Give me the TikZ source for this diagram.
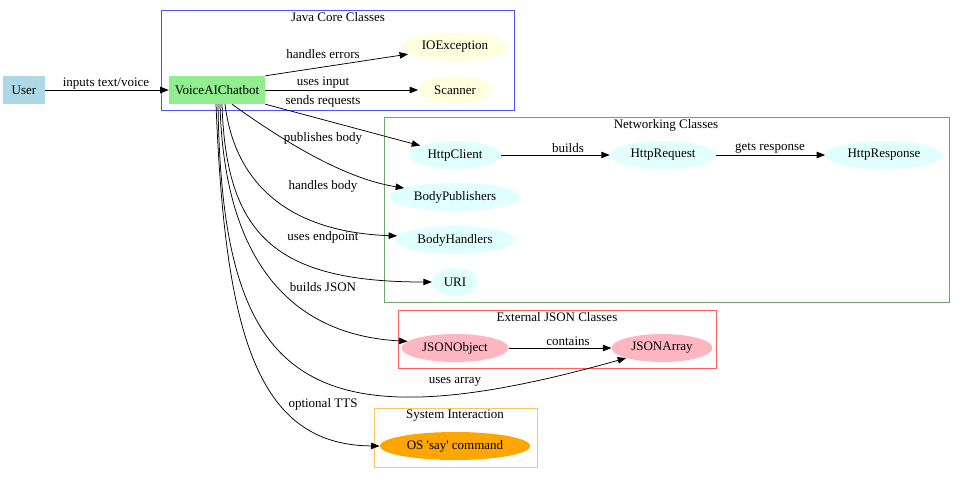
\documentclass[tikz,border=0pt]{standalone}
\usepackage{fontspec}
\setmainfont{Liberation Serif}
\usepackage{tikz}
\usetikzlibrary{arrows.meta, shapes.geometric}
\definecolor{userBlue}{HTML}{ADD8E6}
\definecolor{botGreen}{HTML}{90EE90}
\definecolor{coreYellow}{HTML}{FFFFE0}
\definecolor{netCyan}{HTML}{E0FFFF}
\definecolor{jsonPink}{HTML}{FFB6C1}
\definecolor{sysOrange}{HTML}{FFA500}
\definecolor{coreLine}{RGB}{80, 80, 255}
\definecolor{netLine}{RGB}{110, 165, 110}
\definecolor{jsonLine}{RGB}{255, 95, 95}
\definecolor{sysLine}{RGB}{255, 195, 95}

\begin{document}
\begin{tikzpicture}[
  x=1pt, y=1pt,
  every node/.style={font=\fontsize{13}{15}\selectfont},
  box/.style={rectangle, minimum width=42pt, minimum height=28pt, inner xsep=6pt},
  oval/.style={ellipse, minimum width=42pt, minimum height=28pt, inner xsep=5pt, inner ysep=3pt},
  lbl/.style={inner sep=0pt},
  edge/.style={-{Triangle[length=8.5pt, width=6.5pt]}, line width=0.75pt},
  cluster/.style={line width=0.75pt}
]
  \useasboundingbox (0,0) rectangle (960,-477);

  % Clusters
  \draw[cluster, coreLine] (161,-10) rectangle (514,-110);
  \node[lbl] (t-core) at (338,-17) {Java Core Classes};
  \draw[cluster, netLine] (384,-117) rectangle (949,-302);
  \node[lbl] (t-net) at (666,-125) {Networking Classes};
  \draw[cluster, jsonLine] (398,-310) rectangle (716,-368);
  \node[lbl] (t-json) at (557,-317) {External JSON Classes};
  \draw[cluster, sysLine] (374,-408) rectangle (537,-467);
  \node[lbl] (t-sys) at (455,-416) {System Interaction};

  % Nodes
  \node[box, fill=userBlue] (user) at (24,-90) {User};
  \node[box, fill=botGreen] (bot) at (217,-90) {VoiceAIChatbot};
  \node[oval, fill=coreYellow] (ioe) at (455,-47) {IOException};
  \node[oval, fill=coreYellow] (scan) at (455,-90) {Scanner};
  \node[oval, fill=netCyan] (client) at (455,-155) {HttpClient};
  \node[oval, fill=netCyan] (req) at (663,-155) {HttpRequest};
  \node[oval, fill=netCyan] (resp) at (884,-155) {HttpResponse};
  \node[oval, fill=netCyan] (bp) at (455,-197) {BodyPublishers};
  \node[oval, fill=netCyan] (bh) at (455,-240) {BodyHandlers};
  \node[oval, fill=netCyan] (uri) at (455,-282) {URI};
  \node[oval, fill=jsonPink] (jo) at (455,-348) {JSONObject};
  \node[oval, fill=jsonPink] (ja) at (662,-348) {JSONArray};
  \node[oval, fill=sysOrange] (os) at (455,-446) {OS \textquotesingle say\textquotesingle{} command};

  % Edges
  \draw[edge] (user) -- (bot) node[lbl] (l-in) at (106,-84) {inputs text/voice};
  \draw[edge] (bot.north east) -- (ioe) node[lbl] (l-err) at (323,-54) {handles errors};
  \draw[edge] (bot) -- (scan) node[lbl] (l-use) at (323,-83) {uses input};
  \draw[edge] (bot.south east) -- (client) node[lbl] (l-send) at (323,-101) {sends requests};
  \draw[edge] ([xshift=15pt]bot.south) .. controls (275,-135) and (340,-178) .. (bp.170)
    node[lbl] (l-pub) at (323,-138) {publishes body};
  \draw[edge] ([xshift=8pt]bot.south) .. controls (235,-185) and (290,-232) .. (bh.176)
    node[lbl] (l-hb) at (323,-186) {handles body};
  \draw[edge] ([xshift=5pt]bot.south) .. controls (226,-235) and (275,-282) .. (uri.west)
    node[lbl] (l-end) at (323,-237) {uses endpoint};
  \draw[edge] ([xshift=3pt]bot.south) .. controls (224,-260) and (290,-335) .. (jo.172)
    node[lbl] (l-json) at (323,-287) {builds JSON};
  \draw[edge] ([xshift=1pt]bot.south) .. controls (222,-380) and (300,-450) .. (ja.south west)
    node[lbl] (l-arr) at (455,-382) {uses array};
  \draw[edge] ([xshift=-1pt]bot.south) .. controls (225,-330) and (255,-445) .. (os.west)
    node[lbl] (l-tts) at (323,-404) {optional TTS};
  \draw[edge] (client) -- (req) node[lbl] (l-build) at (568,-148) {builds};
  \draw[edge] (req) -- (resp) node[lbl] (l-resp) at (770,-148) {gets response};
  \draw[edge] (jo) -- (ja) node[lbl] (l-cont) at (568,-341) {contains};
\end{tikzpicture}
\end{document}
